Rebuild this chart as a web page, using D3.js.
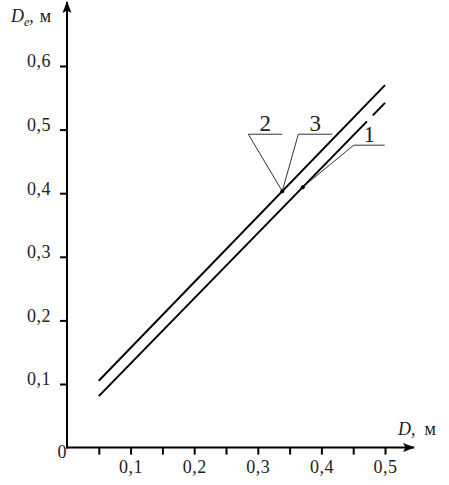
<!DOCTYPE html>
<html>
<head>
<meta charset="utf-8">
<script src="https://cdn.jsdelivr.net/npm/d3@7/dist/d3.min.js"></script>
<style>
  body { margin: 0; background: #fff; }
  svg text { font-family: "Liberation Serif", "Times New Roman", Times, "DejaVu Serif", serif; fill: #222; }
</style>
</head>
<body>
<div id="chart"></div>
<script>
// data
var xValues = [0.05, 0.5];
var curve1 = [0.081, 0.542];     // lower line
var curve23 = [0.105, 0.570];    // upper line (curves 2 and 3 coincide)
var yTicks = [0.1, 0.2, 0.3, 0.4, 0.5, 0.6];
var xTicks = [0.05, 0.1, 0.15, 0.2, 0.25, 0.3, 0.35, 0.4, 0.45, 0.5];
var xLabels = [0.1, 0.2, 0.3, 0.4, 0.5];
var markX1 = 0.3706;   // marked point on curve 1
var markX23 = 0.3385;  // marked point on curves 2, 3
var gap1 = [0.4717, 0.4807]; // break in curve 1 near its label

var fmt = function (d) { return d3.format(".1f")(d).replace(".", ","); };
var serif = "'Liberation Serif', 'Times New Roman', Times, 'DejaVu Serif', serif";

var width = 449, height = 485;

var svg = d3.select("#chart")
  .append("svg")
  .attr("width", width)
  .attr("height", height);

var xScale = d3.scaleLinear().domain([0, 0.5]).range([67, 385]);
var yScale = d3.scaleLinear().domain([0, 0.6]).range([447.6, 66]);

// arrow marker
svg.append("defs").append("marker")
  .attr("id", "arrow")
  .attr("viewBox", "0 -5 12 10")
  .attr("refX", 11)
  .attr("refY", 0)
  .attr("markerUnits", "userSpaceOnUse")
  .attr("markerWidth", 12)
  .attr("markerHeight", 10)
  .attr("orient", "auto")
  .append("path")
  .attr("d", "M0,-4.5L12,0L0,4.5L2.5,0Z")
  .attr("fill", "#000");

// y axis
var yAxis = svg.append("g")
  .attr("transform", "translate(" + xScale(0) + ",0)")
  .call(d3.axisLeft(yScale).tickValues(yTicks).tickSize(7).tickSizeOuter(0).tickFormat(fmt));
yAxis.attr("font-family", serif).attr("font-size", 18);
yAxis.select(".domain").remove();
yAxis.selectAll(".tick line").attr("stroke", "#000").attr("stroke-width", 2);
yAxis.selectAll(".tick text")
  .attr("x", -16)
  .attr("dy", "0.05em")
  .attr("fill", "#333")
  .attr("letter-spacing", 0.5);

svg.append("line")
  .attr("x1", xScale(0)).attr("y1", yScale(0) + 1)
  .attr("x2", xScale(0)).attr("y2", 2)
  .attr("stroke", "#000").attr("stroke-width", 2)
  .attr("marker-end", "url(#arrow)");

// x axis
var xAxis = svg.append("g")
  .attr("transform", "translate(0," + yScale(0) + ")")
  .call(d3.axisBottom(xScale).tickValues(xTicks).tickSize(7).tickSizeOuter(0)
    .tickFormat(function (d) { return xLabels.some(function (v) { return Math.abs(v - d) < 1e-9; }) ? fmt(d) : ""; }));
xAxis.attr("font-family", serif).attr("font-size", 18);
xAxis.select(".domain").remove();
xAxis.selectAll(".tick line").attr("stroke", "#000").attr("stroke-width", 2);
xAxis.selectAll(".tick text")
  .attr("y", 13)
  .attr("fill", "#333")
  .attr("letter-spacing", 0.5);

svg.append("line")
  .attr("x1", xScale(0) - 1).attr("y1", yScale(0))
  .attr("x2", 414).attr("y2", yScale(0))
  .attr("stroke", "#000").attr("stroke-width", 2)
  .attr("marker-end", "url(#arrow)");

// origin
svg.append("text")
  .attr("x", 62).attr("y", 458)
  .attr("text-anchor", "middle")
  .attr("fill", "#333")
  .style("font-size", "18px")
  .text("0");

// axis titles
var yt = svg.append("text").attr("x", 11).attr("y", 22).style("font-size", "18px");
yt.append("tspan").style("font-style", "italic").text("D");
yt.append("tspan").attr("dy", 4).style("font-size", "12px").style("font-style", "italic").text("e");
yt.append("tspan").attr("dy", -4).text(",");
yt.append("tspan").attr("dx", 6).text("м");

var xt = svg.append("text").attr("x", 398).attr("y", 435).style("font-size", "18px");
xt.append("tspan").style("font-style", "italic").text("D");
xt.append("tspan").text(",");
xt.append("tspan").attr("dx", 9).text("м");

// curves
var line = d3.line()
  .x(function (d) { return xScale(d[0]); })
  .y(function (d) { return yScale(d[1]); });

function pairs(ys) { return xValues.map(function (x, i) { return [x, ys[i]]; }); }
function yAt(ys, x) {
  return d3.scaleLinear().domain(xValues).range(ys)(x);
}

svg.append("path")
  .datum(pairs(curve23))
  .attr("d", line)
  .attr("fill", "none").attr("stroke", "#000").attr("stroke-width", 2);

svg.append("path")
  .datum(pairs(curve1))
  .attr("d", line)
  .attr("fill", "none").attr("stroke", "#000").attr("stroke-width", 2);

// break in curve 1
svg.append("path")
  .datum([[gap1[0], yAt(curve1, gap1[0])], [gap1[1], yAt(curve1, gap1[1])]])
  .attr("d", line)
  .attr("fill", "none").attr("stroke", "#fff").attr("stroke-width", 4);

// marked points and callouts
var p1 = [xScale(markX1), yScale(yAt(curve1, markX1))];
var p23 = [xScale(markX23), yScale(yAt(curve23, markX23))];

var callouts = [
  { label: "2", pt: p23, dx: -34, dy: -57, len: 34 },
  { label: "3", pt: p23, dx: 16, dy: -57, len: 34 },
  { label: "1", pt: p1, dx: 51, dy: -42, len: 31 }
];

callouts.forEach(function (c) {
  var kx = c.pt[0] + c.dx, ky = c.pt[1] + c.dy;
  svg.append("polyline")
    .attr("points", [[c.pt[0], c.pt[1]], [kx, ky], [kx + c.len, ky]].map(function (p) { return p.join(","); }).join(" "))
    .attr("fill", "none").attr("stroke", "#333").attr("stroke-width", 1);
  svg.append("text")
    .attr("x", kx + c.len / 2).attr("y", ky - 3)
    .attr("text-anchor", "middle")
    .style("font-size", "23px")
    .text(c.label);
});

[p1, p23].forEach(function (p) {
  svg.append("circle").attr("cx", p[0]).attr("cy", p[1]).attr("r", 2).attr("fill", "#000");
});
</script>
</body>
</html>
